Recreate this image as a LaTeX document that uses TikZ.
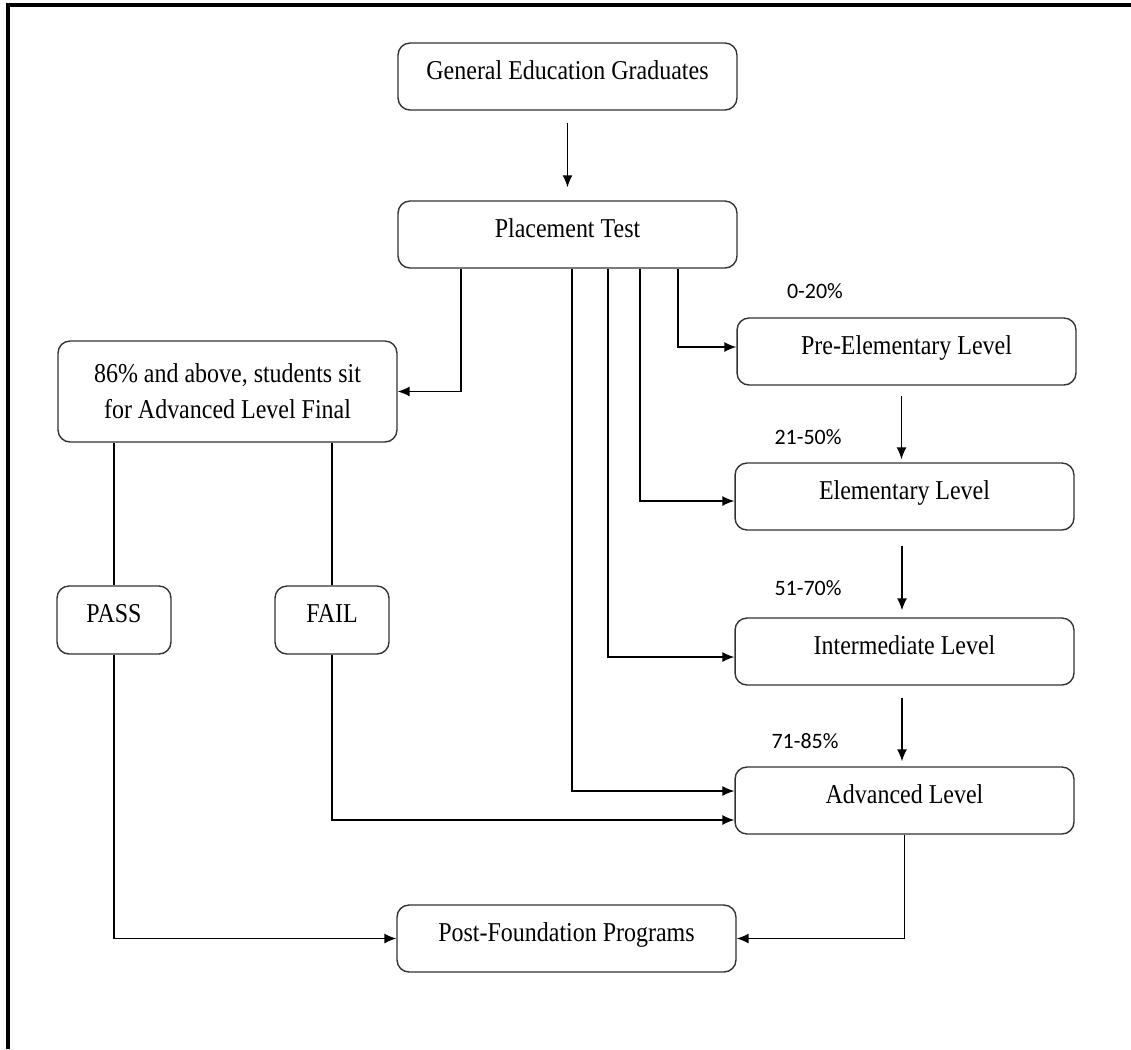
\documentclass[tikz,border=0pt]{standalone}
\usepackage{fontspec}
\setmainfont{Liberation Serif}[FakeStretch=0.88]
\newfontfamily\pctfont{Carlito}
\usetikzlibrary{arrows.meta}
\usetikzlibrary{positioning}

\begin{document}
\begin{tikzpicture}[x=0.02cm, y=-0.02cm,
  box/.style={draw=black!80, line width=0.8pt, rounded corners=0.24cm,
    minimum width=6.78cm, minimum height=1.34cm, inner sep=0pt,
    text height=0.35cm, text depth=0.24cm,
    font=\fontsize{15.5}{20.5}\selectfont},
  smallbox/.style={box, minimum width=2.28cm, minimum height=1.36cm},
  pct/.style={font=\pctfont\fontsize{12.5}{15}\selectfont, inner sep=0pt},
  link/.style={line width=0.8pt},
  arr/.style={link, -{Latex[length=0.24cm,width=0.2cm]}}]
  \useasboundingbox (0,0) rectangle (1131,1049);
  \draw[line width=0.07cm] (8,1049) -- (8,5) -- (1131,5);

  \pgfmathsetmacro{\xf}{461}
  \pgfmathsetmacro{\xa}{572}
  \pgfmathsetmacro{\xi}{608}
  \pgfmathsetmacro{\xe}{640}
  \pgfmathsetmacro{\xp}{678}

  % main column
  \node[box] (geg) at (567.5, 76.5) {General Education Graduates};
  \node[box] (place) at (567.5, 234.5) {Placement Test};
  \node[box, minimum height=2.02cm, text height=, text depth=, align=center]
    (final) at (227.5, 391.5) {86\% and above, students sit\\for Advanced Level Final};
  \node[smallbox] (pass) at (114, 620) {PASS};
  \node[smallbox] (fail) at (332, 620) {FAIL};
  \node[box] (post) at (566.5, 938.5) {Post-Foundation Programs};

  % levels
  \node[box] (pre) at (906.5, 351.5) {Pre-Elementary Level};
  \node[box] (elem) at (904.5, 496.5) {Elementary Level};
  \node[box] (inter) at (904.5, 651.5) {Intermediate Level};
  \node[box] (adv) at (904.5, 800.5) {Advanced Level};

  \node[pct] (lpre) at (815, 291) {0-20\%};
  \node[pct] (lelem) at (808, 437) {21-50\%};
  \node[pct] (linter) at (808, 588) {51-70\%};
  \node[pct] (ladv) at (805, 741) {71-85\%};

  \coordinate (bf) at (\xf, 0);
  \coordinate (ba) at (\xa, 0);
  \coordinate (bi) at (\xi, 0);
  \coordinate (be) at (\xe, 0);
  \coordinate (bp) at (\xp, 0);

  \draw[arr, shorten <=0.24cm, shorten >=0.26cm] (geg) -- (place);

  \draw[arr] (place.south -| bf) |- (final.east);
  \draw[arr] (place.south -| bp) |- ([yshift=0.09cm]pre.west);
  \draw[arr] (place.south -| be) |- ([yshift=-0.09cm]elem.west);
  \draw[arr] (place.south -| bi) |- ([yshift=-0.11cm]inter.west);
  \draw[arr] (place.south -| ba) |- ([yshift=0.19cm]adv.west);

  \draw[arr, shorten <=0.2cm, shorten >=0.06cm] ([xshift=-0.06cm]pre.south -| elem.north) -- ([xshift=-0.06cm]elem.north);
  \draw[arr, shorten <=0.3cm, shorten >=0.14cm] ([xshift=-0.05cm]elem.south) -- ([xshift=-0.05cm]inter.north);
  \draw[arr, shorten <=0.24cm, shorten >=0.1cm] ([xshift=-0.05cm]inter.south) -- ([xshift=-0.05cm]adv.north);

  \draw[link] (final.south -| pass.north) -- (pass.north);
  \draw[link] (final.south -| fail.north) -- (fail.north);
  \draw[arr] (pass.south) |- (post.west);
  \draw[arr] (fail.south) |- ([yshift=-0.39cm]adv.west);
  \draw[arr] (adv.south) |- (post.east);
\end{tikzpicture}
\end{document}
